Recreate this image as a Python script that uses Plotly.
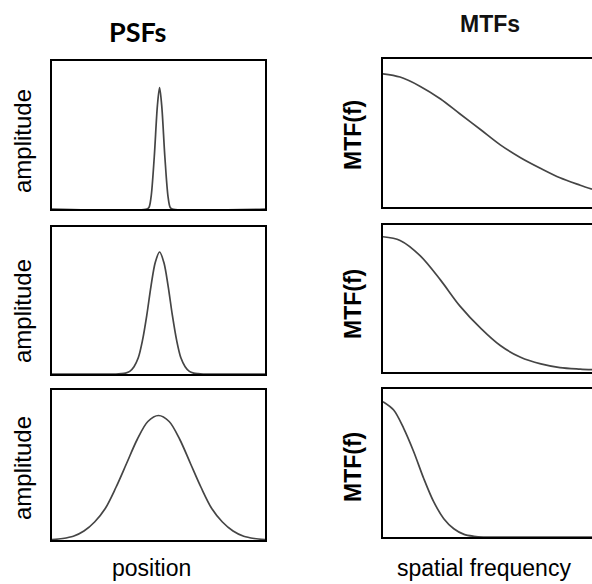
import plotly.graph_objects as go

# ---- data (x in 0..100 panel units, y normalised) ----
psf1_x = [0, 44.5, 45.5, 46.5, 48, 49.5, 50.5, 51.5, 53, 54.5, 55.5, 56.5, 100]
psf1_y = [0, 0, 0.01, 0.08, 0.35, 0.70, 0.82, 0.70, 0.35, 0.08, 0.01, 0, 0]

psf2_x = [0, 30, 32.5, 34.5, 36.5, 38.5, 40.5, 42.5, 44.5, 46.5, 48.5, 50.5,
          52.5, 54.5, 56.5, 58.5, 60.5, 62.5, 64.5, 66.5, 68.5, 71, 100]
psf2_y = [0, 0, 0.002, 0.006, 0.018, 0.05, 0.11, 0.23, 0.40, 0.60, 0.76, 0.83,
          0.76, 0.60, 0.40, 0.23, 0.11, 0.05, 0.018, 0.006, 0.002, 0, 0]

psf3_x = [0, 5, 10, 15, 20, 25, 30, 35, 40, 45, 50, 55, 60, 65, 70, 75, 80, 85, 90, 95, 100]
psf3_y = [0.003, 0.01, 0.025, 0.06, 0.12, 0.21, 0.35, 0.51, 0.67, 0.79, 0.83,
          0.79, 0.67, 0.51, 0.35, 0.21, 0.12, 0.06, 0.025, 0.01, 0.003]

mtf1_x = [0, 8, 17.5, 27, 36, 46, 55, 64.5, 74, 83, 92.5, 98]
mtf1_y = [0.90, 0.878, 0.815, 0.73, 0.63, 0.52, 0.42, 0.333, 0.26, 0.197, 0.147, 0.12]

mtf2_x = [0, 8, 17.5, 27, 36, 46, 55, 64.5, 74, 83, 92.5, 98]
mtf2_y = [0.92, 0.895, 0.79, 0.625, 0.45, 0.295, 0.18, 0.10, 0.055, 0.03, 0.02, 0.016]

mtf3_x = [0, 5, 9.7, 14.4, 19.1, 23.8, 28.5, 33.2, 38, 42.6, 47, 60, 80, 98]
mtf3_y = [0.914, 0.858, 0.734, 0.576, 0.395, 0.237, 0.124, 0.056, 0.018, 0.005, 0, 0, 0, 0]

W, H = 592, 584

def px(x):
    return x / W

def py(y):
    return 1 - y / H

# panel pixel boxes (left, right, top, bottom)
left_boxes = [(52, 265, 61, 209), (52, 265, 227, 374), (52, 265, 390, 540)]
right_boxes = [(383, 592, 59, 207), (383, 592, 225, 372), (383, 592, 389, 537)]

series = [(psf1_x, psf1_y), (psf2_x, psf2_y), (psf3_x, psf3_y),
          (mtf1_x, mtf1_y), (mtf2_x, mtf2_y), (mtf3_x, mtf3_y)]
boxes = left_boxes + right_boxes

fig = go.Figure()
layout = dict(width=W, height=H, margin=dict(l=0, r=0, t=0, b=0),
              paper_bgcolor="white", plot_bgcolor="white", showlegend=False)

for i, ((xs, ys), (l, r, t, b)) in enumerate(zip(series, boxes)):
    n = i + 1
    xa = "x" if n == 1 else f"x{n}"
    ya = "y" if n == 1 else f"y{n}"
    fig.add_trace(go.Scatter(x=xs, y=ys, mode="lines", xaxis=xa, yaxis=ya,
                             line=dict(color="#454545", width=1.7, shape="spline", smoothing=0.9),
                             hoverinfo="skip"))
    is_right = i >= 3
    xr = [0, 98] if is_right else [0, 100]
    layout["xaxis" if n == 1 else f"xaxis{n}"] = dict(
        domain=[px(l), px(r)], range=xr, anchor=ya, showgrid=False, zeroline=False,
        showticklabels=False, ticks="", showline=True, linecolor="black", linewidth=2,
        mirror=True, fixedrange=True)
    layout["yaxis" if n == 1 else f"yaxis{n}"] = dict(
        domain=[py(b), py(t)], range=[0, 1], anchor=xa, showgrid=False, zeroline=False,
        showticklabels=False, ticks="", showline=True, linecolor="black", linewidth=2,
        mirror=(not is_right), fixedrange=True)

fig.update_layout(**layout)

ann = []
ann.append(dict(text="<b>PSFs</b>", x=px(137), y=py(31), font=dict(family="Lato", size=27, color="black")))
ann.append(dict(text="<b>MTFs</b>", x=px(490), y=py(24), font=dict(family="Liberation Sans", size=23, color="#111")))
for yc in [141, 311, 468]:
    ann.append(dict(text="amplitude", x=px(22), y=py(yc), textangle=-90,
                    font=dict(family="Liberation Sans", size=24, color="black")))
for yc in [135, 304, 467]:
    ann.append(dict(text="<b>MTF(f)</b>", x=px(353), y=py(yc), textangle=-90,
                    font=dict(family="Liberation Sans", size=23, color="black")))
ann.append(dict(text="position", x=px(151), y=py(568), font=dict(family="Liberation Sans", size=23, color="black")))
ann.append(dict(text="spatial frequency", x=px(484), y=py(568), font=dict(family="Liberation Sans", size=23, color="black")))
for a in ann:
    a.update(xref="paper", yref="paper", showarrow=False, xanchor="center", yanchor="middle")
fig.update_layout(annotations=ann)

fig.write_html("out.html", config={"displayModeBar": False})
